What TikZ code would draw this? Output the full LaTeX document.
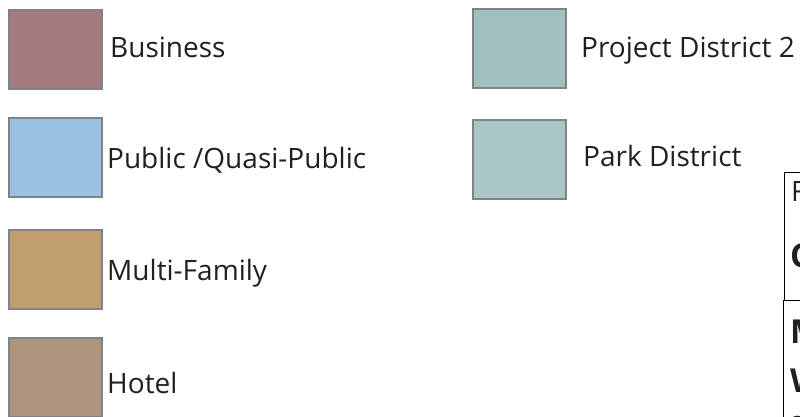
\documentclass[tikz,border=0pt]{standalone}
\usepackage{fontspec}
\setmainfont{Open Sans}
\usepackage{tikz}

\definecolor{txtgray}{HTML}{231F20}
\definecolor{boxgray}{HTML}{808285}
\definecolor{business}{HTML}{A57A80}
\definecolor{public}{HTML}{9BC2E2}
\definecolor{multifam}{HTML}{C19E70}
\definecolor{hotel}{HTML}{AD947D}
\definecolor{projdist}{HTML}{A0C1C0}
\definecolor{parkdist}{HTML}{A8C6C8}

\tikzset{
  swatch/.style={draw=boxgray, line width=2.2pt, minimum width=93pt, minimum height=79pt, inner sep=0pt, anchor=north west},
  legendtext/.style={anchor=base west, inner sep=0pt, text=txtgray, font=\fontsize{28}{34}\selectfont},
  boxtext/.style={anchor=base west, inner sep=0pt, text=txtgray, font=\fontsize{28}{34}\selectfont},
  boldtext/.style={anchor=base west, inner sep=0pt, text=txtgray, font=\fontsize{33}{40}\selectfont\bfseries}
}

\begin{document}
\begin{tikzpicture}[x=1pt,y=-1pt]
    \useasboundingbox (0,0) rectangle (800,417);
    \clip (0,0) rectangle (800,417);

    % draw swatches, left column
    \node[swatch, fill=business] (biz) at (8,9) {};
    \node[swatch, fill=public] (pub) at (8,117) {};
    \node[swatch, fill=multifam] (multi) at (8,229) {};
    \node[swatch, fill=hotel] (hotel) at (8,337) {};

    % draw swatches, right column
    \node[swatch, fill=projdist] (proj) at (472,8) {};
    \node[swatch, fill=parkdist] (park) at (472,119) {};

    % draw labels
    \node[legendtext] (bizlbl) at (110,58) {Business};
    \node[legendtext] (publbl) at (107,168) {Public /Quasi-Public};
    \node[legendtext] (multilbl) at (107,280) {Multi-Family};
    \node[legendtext] (hotellbl) at (107,393) {Hotel};
    \node[legendtext] (projlbl) at (581,58) {Project District 2};
    \node[legendtext] (parklbl) at (583,166) {Park District};

    % draw boxes at the right edge
    \draw[line width=1pt] (820,172) -- (784,172) -- (784,300) -- (820,300);
    \draw[line width=1pt] (783,300) -- (783,430);

    % draw box texts
    \node[boxtext] (ftxt) at (791,201) {F};
    \node[boldtext] (ctxt) at (790,267) {C};
    \node[boldtext] (mtxt) at (790,343) {M};
    \node[boldtext] (wtxt) at (790,392) {W};
    \node[boxtext, font=\fontsize{22}{26}\selectfont\bfseries] (atxt) at (791,428) {a};
\end{tikzpicture}
\end{document}
